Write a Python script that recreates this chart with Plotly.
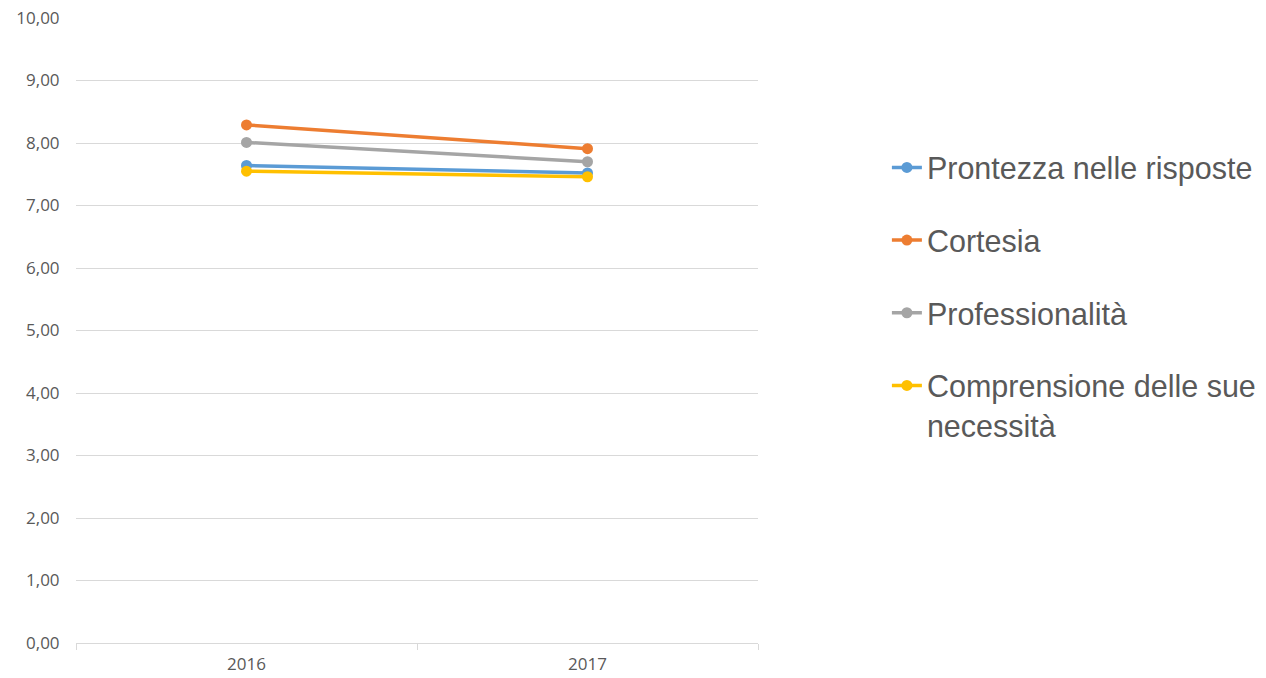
import plotly.graph_objects as go

# Customer satisfaction scores by year
years = ["2016", "2017"]
series_names = [
    "Prontezza nelle risposte",
    "Cortesia",
    "Professionalità",
    "Comprensione delle sue<br>necessità",
]
prontezza = [7.64, 7.52]
cortesia = [8.29, 7.91]
professionalita = [8.01, 7.70]
comprensione = [7.55, 7.46]

colors = ["#5B9BD5", "#ED7D31", "#A5A5A5", "#FFC000"]
values = [prontezza, cortesia, professionalita, comprensione]

fig = go.Figure()
for i, (name, vals, col) in enumerate(zip(series_names, values, colors)):
    fig.add_trace(go.Scatter(
        x=years, y=vals, name=name, mode="lines+markers",
        line=dict(color=col, width=3.5),
        marker=dict(color=col, size=11),
        legendgroup=f"g{i}",
    ))

tick_font = dict(size=17, color="#595959", family="Open Sans, Liberation Sans, sans-serif")

fig.update_layout(
    width=1266, height=678,
    margin=dict(l=76, r=508, t=18, b=35, autoexpand=False),
    paper_bgcolor="white", plot_bgcolor="white",
    separators=",.",
    font=dict(family="Liberation Sans, Arial, sans-serif", color="#595959"),
    showlegend=True,
    legend=dict(
        x=1.189, y=0.803, xanchor="left", yanchor="top",
        font=dict(size=30.5, color="#595959"),
        tracegroupgap=30, valign="top",
        bgcolor="rgba(0,0,0,0)",
    ),
    xaxis=dict(
        type="category", range=[-0.5, 1.5], automargin=False,
        tickson="boundaries", ticks="outside", ticklen=6, tickcolor="#D9D9D9",
        showline=True, linecolor="#D9D9D9", linewidth=1,
        showgrid=False, tickfont=tick_font, ticklabelstandoff=6,
    ),
    yaxis=dict(
        range=[0, 10], dtick=1, tickformat=".2f", automargin=False,
        showgrid=True, gridcolor="#D9D9D9", gridwidth=1,
        zeroline=False, showline=False,
        ticks="outside", ticklen=12, tickcolor="rgba(0,0,0,0)",
        tickfont=tick_font,
    ),
)

fig.write_html("out.html")
